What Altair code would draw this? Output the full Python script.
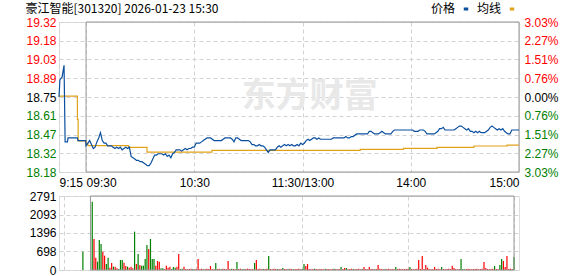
import json
import altair as alt
import pandas as pd

# ---------------- data ----------------
title_text = "豪江智能[301320] 2026-01-23 15:30"
prev_close = 18.75
pct_limit = 3.03

price_tick_labels = ["18.18", "18.32", "18.47", "18.61", "18.75", "18.89", "19.03", "19.18", "19.32"]
pct_tick_labels = ["3.03%", "2.27%", "1.51%", "0.76%", "0.00%", "0.76%", "1.51%", "2.27%", "3.03%"]

time_ticks = [-15, 0, 60, 120, 180, 240]          # minutes from 09:30 (trading time)
time_labels = ["9:15", "09:30", "10:30", "11:30/13:00", "14:00", "15:00"]

vol_ticks = [0, 698, 1396, 2093, 2791]
vol_labels = ["0", "698", "1396", "2093", "2791"]

# call auction (9:15-9:30)
auction_min = [-15, -14.5, -14, -13.3, -12.7, -12.2, -11.6, -10.3, -10.0, -4.8, -4.5, -0.2]
auction_price = [18.75, 18.88, 18.89, 18.90, 18.95, 18.99, 18.41, 18.41, 18.44, 18.44, 18.42, 18.42]

# continuous session, minutes 0..240
session_price = [
    18.38, 18.40, 18.42, 18.39, 18.36, 18.37, 18.41, 18.44, 18.48, 18.42,
    18.40, 18.40, 18.38, 18.38, 18.38, 18.37, 18.36, 18.37, 18.36, 18.37,
    18.35, 18.36, 18.37, 18.36, 18.37, 18.30, 18.29, 18.28, 18.27, 18.27,
    18.26, 18.26, 18.25, 18.24, 18.23, 18.23, 18.25, 18.28, 18.31, 18.31,
    18.32, 18.32, 18.32, 18.31, 18.32, 18.30, 18.31, 18.29, 18.32, 18.33,
    18.35, 18.35, 18.35, 18.34, 18.35, 18.36, 18.35, 18.36, 18.36, 18.37,
    18.37, 18.40, 18.40, 18.40, 18.41, 18.42, 18.43, 18.44, 18.44, 18.44,
    18.43, 18.42, 18.42, 18.42, 18.42, 18.42, 18.43, 18.44, 18.44, 18.44,
    18.44, 18.43, 18.41, 18.44, 18.44, 18.43, 18.42, 18.42, 18.42, 18.42,
    18.42, 18.41, 18.39, 18.39, 18.38, 18.38, 18.39, 18.38, 18.38, 18.37,
    18.35, 18.33, 18.35, 18.35, 18.35, 18.35, 18.37, 18.38, 18.37, 18.38,
    18.39, 18.38, 18.39, 18.38, 18.39, 18.38, 18.38, 18.39, 18.38, 18.40,
    18.39, 18.40, 18.42, 18.43, 18.42, 18.43, 18.44, 18.44, 18.43, 18.44,
    18.43, 18.43, 18.43, 18.43, 18.43, 18.43, 18.43, 18.44, 18.44, 18.44,
    18.44, 18.44, 18.44, 18.44, 18.45, 18.44, 18.44, 18.45, 18.45, 18.46,
    18.47, 18.47, 18.47, 18.47, 18.47, 18.47, 18.47, 18.49, 18.49, 18.48,
    18.47, 18.47, 18.47, 18.48, 18.49, 18.48, 18.47, 18.47, 18.47, 18.47,
    18.49, 18.50, 18.50, 18.50, 18.50, 18.50, 18.50, 18.50, 18.50, 18.50,
    18.50, 18.50, 18.49, 18.49, 18.49, 18.50, 18.50, 18.50, 18.49, 18.47,
    18.47, 18.47, 18.47, 18.47, 18.48, 18.49, 18.51, 18.51, 18.52, 18.50,
    18.50, 18.50, 18.50, 18.50, 18.50, 18.51, 18.52, 18.53, 18.53, 18.52,
    18.51, 18.50, 18.51, 18.49, 18.49, 18.48, 18.49, 18.48, 18.49, 18.48,
    18.48, 18.48, 18.49, 18.50, 18.52, 18.53, 18.52, 18.51, 18.50, 18.51,
    18.50, 18.51, 18.49, 18.48, 18.47, 18.47, 18.50, 18.50, 18.50, 18.50,
    18.50,
]

# average price line (value changes)
avg_min = [-15, -4.8, -4.4, 0, 1, 23.5, 33.8, 69.8, 152, 176, 194.6, 215, 233.4, 240]
avg_price = [18.757, 18.58, 18.417, 18.395, 18.381, 18.368, 18.333, 18.345, 18.354,
             18.361, 18.369, 18.379, 18.386, 18.386]

# volume
auction_vol_min = [-4.3]
auction_vol = [691]
auction_vol_dir = "g"

volume = [
    2577, 1169, 465, 314, 1131, 980, 691, 540, 226, 465,
    88, 264, 126, 126, 63, 38, 377, 377, 277, 151,
    126, 88, 126, 63, 1446, 226, 603, 189, 163, 163,
    415, 943, 792, 1169, 415, 415, 163, 339, 314, 63,
    63, 38, 163, 88, 126, 38, 113, 88, 126, 603,
    38, 50, 126, 38, 25, 38, 50, 38, 25, 38,
    415, 38, 50, 25, 38, 50, 38, 151, 38, 25,
    264, 38, 50, 25, 50, 38, 25, 339, 38, 50,
    38, 25, 302, 38, 50, 25, 38, 38, 50, 38,
    25, 38, 264, 377, 38, 50, 25, 38, 38, 50,
    528, 38, 25, 50, 38, 38, 25, 38, 75, 38,
    25, 38, 50, 38, 25, 38, 38, 50, 25, 38,
    226, 151, 226, 38, 25, 38, 50, 38, 25, 38,
    38, 25, 50, 38, 38, 25, 38, 50, 38, 25,
    38, 113, 38, 75, 75, 25, 38, 50, 38, 25,
    38, 50, 25, 38, 113, 38, 25, 113, 38, 38,
    25, 38, 189, 50, 38, 25, 38, 38, 50, 25,
    38, 25, 113, 38, 50, 38, 25, 38, 38, 50,
    113, 38, 25, 38, 50, 377, 38, 528, 38, 189,
    88, 38, 25, 38, 113, 38, 50, 25, 113, 38,
    25, 38, 50, 38, 163, 75, 38, 25, 38, 415,
    38, 25, 38, 50, 38, 25, 38, 38, 50, 25,
    38, 50, 302, 75, 38, 25, 38, 50, 151, 38,
    25, 189, 415, 339, 113, 528, 38, 50, 38, 490,
]
vol_dir = (
    "grrgggrrgg" "rrgrrgggrr" "grrrgrgrgg" "ggrgggrrrg" "grrrrgggrr"
    "ggrrrrrgrr" "rrrgrrrrrr" "grrgrrrrrg" "rrgrrggrrr" "rrgrrrrgrr"
    "grrrrgrrgr" "rgrrgrrrrg" "grrrrrgrrr" "rrgrrrrgrr" "rgrrgrrrgr"
    "rrrgrrrrrr" "grrrrrgrrr" "rrgrrrrrrr" "grrrrrrrrr" "rrrrrrrrgr"
    "rrrrrrrrrg" "ggrrrrrrrr" "rrrrrrrrgr" "rggrrrrrrg"
)

watermark = {"text": "东方财富", "m": 124, "price": 18.752}

# ---------------- styling ----------------
blue = "#0b4f9f"
orange = "#e1a21b"
red = "#ff0000"
green = "#008000"
grid_color = "#d2d2d2"
frame_color = "#999999"
num_font = "Liberation Sans"
cjk_font = "Noto Sans CJK SC"

lo = prev_close * (1 - pct_limit / 100)
hi = prev_close * (1 + pct_limit / 100)
price_ticks = [prev_close * (1 + pct_limit / 100 * k / 4) for k in range(-4, 5)]


def lookup_expr(values, labels):
    return "%s[indexof(%s, datum.value)]" % (json.dumps(labels, ensure_ascii=False), json.dumps(values))


label_color = {
    "condition": [
        {"test": f"datum.value > {prev_close + 0.001}", "value": red},
        {"test": f"datum.value < {prev_close - 0.001}", "value": green},
    ],
    "value": "#000000",
}
x_align = {
    "condition": [
        {"test": "datum.value <= 0", "value": "left"},
        {"test": "datum.value >= 240", "value": "right"},
    ],
    "value": "center",
}

grid_kw = dict(grid=True, gridColor=grid_color, gridDash=[4, 3], gridWidth=1)
common_axis = dict(domain=False, ticks=False, title=None, labelFont=num_font, labelFontSize=12)

x_scale = alt.Scale(domain=[-15, 240], nice=False, zero=False)
price_scale = alt.Scale(domain=[lo, hi], nice=False, zero=False)
vol_scale = alt.Scale(domain=[0, vol_ticks[-1]], nice=False, zero=True)

x_top_axis = alt.Axis(values=time_ticks, labelExpr=lookup_expr(time_ticks, time_labels),
                      labelAlign=x_align, labelPadding=5, labelColor="#000000",
                      labelOverlap=False, labelFlush=False, **grid_kw, **common_axis)
x_bot_axis = alt.Axis(values=time_ticks, labels=False, domain=False, ticks=False, title=None, **grid_kw)

left_axis = alt.Axis(orient="left", values=price_ticks,
                     labelExpr=lookup_expr(price_ticks, price_tick_labels),
                     labelColor=label_color, labelPadding=3, labelOverlap=False,
                     **grid_kw, **common_axis)
right_axis = alt.Axis(orient="right", values=price_ticks,
                      labelExpr=lookup_expr(price_ticks, pct_tick_labels),
                      labelColor=label_color, labelPadding=5, labelOverlap=False,
                      grid=False, **common_axis)
vol_axis = alt.Axis(orient="left", values=vol_ticks, labelExpr=lookup_expr(vol_ticks, vol_labels),
                    labelColor="#000000", labelPadding=3, labelOverlap=False,
                    **grid_kw, **common_axis)

# ---------------- tables ----------------
price_df = pd.DataFrame({
    "m": auction_min + list(range(0, 241)),
    "price": auction_price + session_price,
})
price_df["series"] = "价格"
avg_df = pd.DataFrame({"m": avg_min, "price": avg_price})
avg_df["series"] = "均线"
wm_df = pd.DataFrame([watermark])
frame_top_df = pd.DataFrame({"m": [0], "m2": [240], "price": [lo], "price2": [hi]})
frame_bot_df = pd.DataFrame({"m": [0], "m2": [240], "vol": [0], "vol2": [vol_ticks[-1]]})
vol_df = pd.DataFrame({
    "m": auction_vol_min + list(range(1, 241)),
    "vol": auction_vol + volume,
    "dir": list(auction_vol_dir + vol_dir),
})

color = alt.Color(
    "series:N",
    scale=alt.Scale(domain=["价格", "均线"], range=[blue, orange]),
    legend=alt.Legend(orient="none", legendX=401, legendY=-19, direction="horizontal",
                      title=None, symbolType="stroke", symbolSize=20, symbolStrokeWidth=3,
                      labelFont=cjk_font, labelFontSize=12, labelColor="#000000",
                      labelAlign="right", labelOffset={"expr": "-17"}, columnPadding=1, padding=0),
)

x_top = alt.X("m:Q", scale=x_scale, axis=x_top_axis)
x_bot = alt.X("m:Q", scale=x_scale, axis=x_bot_axis)

wm_layer = alt.Chart(wm_df).mark_text(font=cjk_font, fontSize=34, fontWeight="bold",
                                       color="#e8e8e8").encode(
    x=x_top, y=alt.Y("price:Q", scale=price_scale, axis=left_axis), text="text:N")

frame_top = alt.Chart(frame_top_df).mark_rect(filled=False, stroke=frame_color, strokeWidth=1).encode(
    x=x_top, x2="m2:Q", y=alt.Y("price:Q", scale=price_scale, axis=right_axis), y2="price2:Q")

avg_layer = alt.Chart(avg_df).mark_line(interpolate="step-after", strokeWidth=1.2).encode(
    x=x_top, y=alt.Y("price:Q", scale=price_scale, axis=None), color=color)

price_layer = alt.Chart(price_df).mark_line(strokeWidth=1.2).encode(
    x=x_top, y=alt.Y("price:Q", scale=price_scale, axis=None), color=color)

top = alt.layer(wm_layer, frame_top, avg_layer, price_layer).resolve_scale(
    y="independent").properties(width=460, height=150)

frame_bot = alt.Chart(frame_bot_df).mark_rect(filled=False, stroke=frame_color, strokeWidth=1).encode(
    x=x_bot, x2="m2:Q", y=alt.Y("vol:Q", scale=vol_scale, axis=vol_axis), y2="vol2:Q")

bars_r = alt.Chart(vol_df).transform_filter("datum.dir == 'r'").mark_bar(color=red, size=1.2).encode(
    x=x_bot, y=alt.Y("vol:Q", scale=vol_scale, axis=vol_axis))
bars_g = alt.Chart(vol_df).transform_filter("datum.dir == 'g'").mark_bar(color=green, size=1.2).encode(
    x=x_bot, y=alt.Y("vol:Q", scale=vol_scale, axis=vol_axis))

bottom = alt.layer(bars_r, bars_g, frame_bot).properties(width=460, height=74)

chart = alt.vconcat(top, bottom, spacing=24, bounds="flush").properties(
    title=alt.TitleParams(text=title_text, anchor="start", font=cjk_font, fontSize=12,
                          fontWeight="normal", color="#000000", offset=0, dy=13),
    autosize=alt.AutoSizeParams(type="none"),
    padding={"left": 59, "top": 22, "right": 59, "bottom": 254},
).configure_view(stroke=None).configure(background="white")

chart.save("out.html", embed_options={"renderer": "svg", "actions": False})
